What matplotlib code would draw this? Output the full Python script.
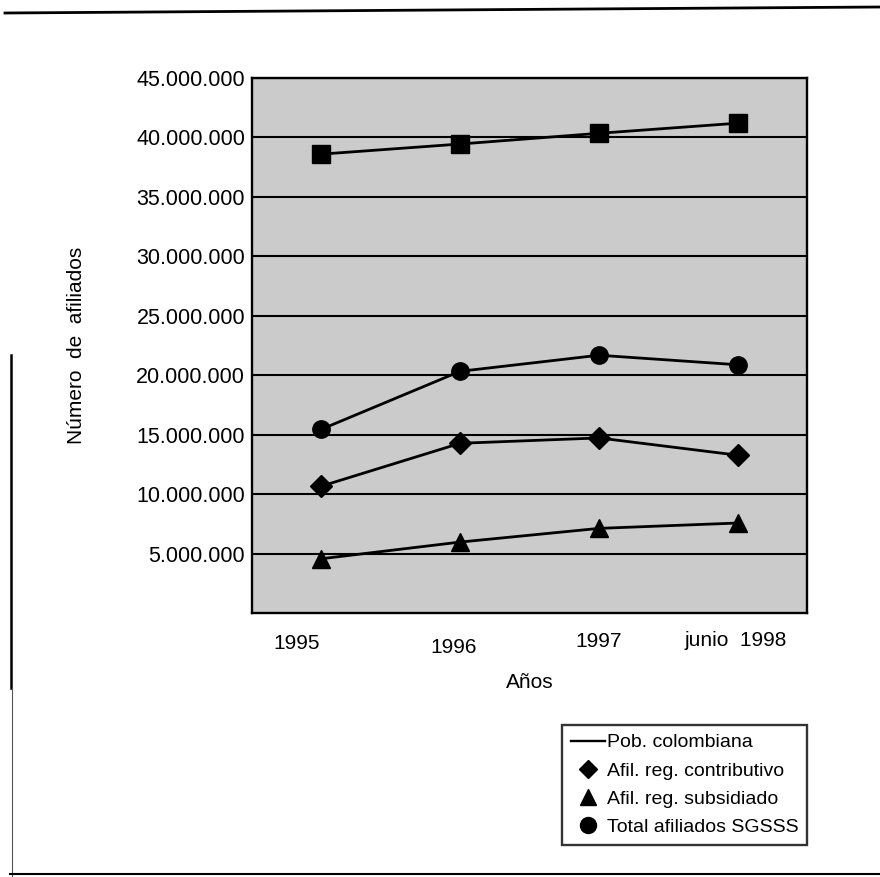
import matplotlib.pyplot as plt
from matplotlib.lines import Line2D
from matplotlib.ticker import FuncFormatter
import matplotlib.transforms as mtransforms

plt.rcParams['font.family'] = ['Liberation Sans', 'DejaVu Sans']

# Data
years = ['1995', '1996', '1997', 'junio  1998']
pob_colombiana = [38600000, 39450000, 40350000, 41200000]
afil_contributivo = [10700000, 14300000, 14750000, 13300000]
afil_subsidiado = [4600000, 6000000, 7150000, 7600000]
total_sgsss = [15480000, 20350000, 21700000, 20900000]

y_ticks = [5000000, 10000000, 15000000, 20000000, 25000000,
           30000000, 35000000, 40000000, 45000000]

fig = plt.figure(figsize=(8.8, 8.77), dpi=100)
fig.patch.set_facecolor('white')
ax = fig.add_axes([0.2864, 0.3005, 0.6307, 0.6106])
ax.set_facecolor('#cbcbcb')

x = range(len(years))
line_kw = dict(color='black', lw=2.0, zorder=3)
ax.plot(x, pob_colombiana, marker='s', ms=13, **line_kw)
ax.plot(x, total_sgsss, marker='o', ms=12.5, **line_kw)
ax.plot(x, afil_contributivo, marker='D', ms=11, **line_kw)
ax.plot(x, afil_subsidiado, marker='^', ms=12.5, **line_kw)

ax.set_xlim(-0.5, 3.5)
ax.set_ylim(0, 45000000)
ax.set_yticks(y_ticks)
ax.yaxis.set_major_formatter(FuncFormatter(lambda v, p: f'{v:,.0f}'.replace(',', '.')))
ax.grid(axis='y', color='black', lw=1.5)
ax.set_axisbelow(True)
for s in ax.spines.values():
    s.set_linewidth(1.7)

ax.tick_params(axis='y', length=0, pad=5, labelsize=15.5)
ax.set_xticks(list(x))
ax.set_xticklabels(years)
ax.tick_params(axis='x', length=0, pad=13, labelsize=15)
# small individual shifts of the year labels, as in the original
shifts = [(-25, -2), (-7, -6), (0, 0), (-2, 1)]
for lab, (dx, dy) in zip(ax.get_xticklabels(), shifts):
    lab.set_transform(lab.get_transform() +
                      mtransforms.ScaledTranslation(dx / 100, dy / 100, fig.dpi_scale_trans))

ax.set_ylabel('Número  de  afiliados', fontsize=15, labelpad=36)
ax.set_xlabel('Años', fontsize=15, labelpad=12)

handles = [
    Line2D([], [], color='black', lw=1.7),
    Line2D([], [], color='black', ls='none', marker='D', ms=9.5),
    Line2D([], [], color='black', ls='none', marker='^', ms=11.5),
    Line2D([], [], color='black', ls='none', marker='o', ms=11.5),
]
labels = ['Pob. colombiana', 'Afil. reg. contributivo',
          'Afil. reg. subsidiado', 'Total afiliados SGSSS']
leg = fig.legend(handles, labels, loc='upper right',
                 bbox_to_anchor=(807 / 880, 1 - 725 / 877), borderaxespad=0,
                 fontsize=14, frameon=True, fancybox=False, edgecolor='black',
                 handlelength=1.75, handletextpad=0.1, borderpad=0.45,
                 labelspacing=0.55)
leg.get_frame().set_linewidth(1.7)

# scan frame lines of the page
fig.add_artist(Line2D([5 / 880, 1], [1 - 13 / 877, 1 - 7 / 877], color='black', lw=2))
fig.add_artist(Line2D([11 / 880, 11 / 880], [1 - 355 / 877, 1 - 688 / 877], color='black', lw=1.8))
fig.add_artist(Line2D([12 / 880, 12 / 880], [1 - 688 / 877, 0], color='#555555', lw=0.8))
fig.add_artist(Line2D([10 / 880, 1], [1 - 874 / 877, 1 - 874 / 877], color='black', lw=1.5))

fig.savefig('out.png', dpi=100)
